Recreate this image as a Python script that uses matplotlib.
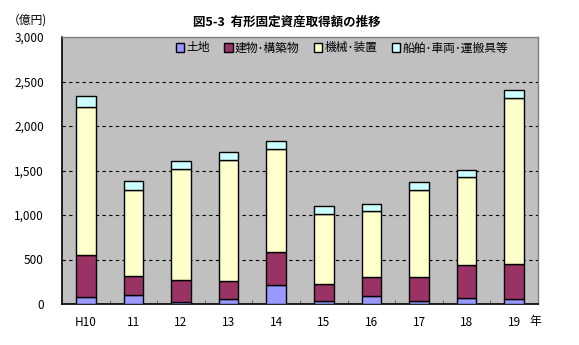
import numpy as np
import matplotlib.pyplot as plt
from matplotlib.ticker import FuncFormatter

plt.rcParams['font.family'] = ['Noto Sans CJK JP', 'DejaVu Sans']

# データ (億円)
years = ['H10', '11', '12', '13', '14', '15', '16', '17', '18', '19']
land = [75, 98, 19, 53, 210, 30, 87, 30, 64, 53]
building = [472, 213, 247, 202, 371, 191, 213, 270, 371, 393]
machinery = [1663, 967, 1247, 1359, 1157, 794, 742, 977, 988, 1865]
vehicles = [127, 100, 90, 90, 93, 83, 78, 90, 79, 90]

series = [
    ('土地', land, '#9999FF'),
    ('建物･構築物', building, '#993366'),
    ('機械･装置', machinery, '#FFFFCC'),
    ('船舶･車両･運搬具等', vehicles, '#CCFFFF'),
]

fig = plt.figure(figsize=(5.79, 3.45), dpi=100)
ax = fig.add_axes([62 / 579, 41 / 345, 476 / 579, 267 / 345])
ax.set_facecolor('#C0C0C0')

x = np.arange(len(years))
bottom = np.zeros(len(years))
handles = []
for name, vals, color in series:
    b = ax.bar(x, vals, width=0.41, bottom=bottom, color=color,
               edgecolor='black', linewidth=1.0, label=name, zorder=3)
    handles.append(b)
    bottom += np.array(vals)

ax.set_xlim(-0.5, len(years) - 0.5)
ax.set_ylim(0, 3000)
ax.set_yticks(np.arange(0, 3001, 500))
ax.yaxis.set_major_formatter(FuncFormatter(lambda v, p: f'{int(v):,}'))
ax.yaxis.grid(True, color='black', linestyle=(0, (3, 3)), linewidth=0.8)
ax.set_axisbelow(True)

ax.set_xticks(x)
ax.set_xticklabels(years)
ax.set_xticks(np.arange(0.5, len(years) - 1, 1), minor=True)
ax.tick_params(axis='x', which='major', length=0, pad=9, labelsize=8.5)
ax.tick_params(axis='x', which='minor', length=3, direction='in', color='#555555')
ax.tick_params(axis='y', length=0, pad=13, labelsize=8.5)

for s in ['left', 'bottom']:
    ax.spines[s].set_color('black')
    ax.spines[s].set_linewidth(1.2)
for s in ['top', 'right']:
    ax.spines[s].set_color('#808080')
    ax.spines[s].set_linewidth(1.0)

leg = fig.legend(handles=handles, loc='center', bbox_to_anchor=(342 / 579, 1 - 48 / 345),
                 ncol=4, frameon=False, fontsize=8.5, handlelength=0.7, handleheight=0.7,
                 handletextpad=0.2, columnspacing=1.2)

fig.text(287 / 579, 1 - 22 / 345, '図5-3  有形固定資産取得額の推移', ha='center', va='center',
         fontsize=9, fontweight='bold')
fig.text(8 / 579, 1 - 20 / 345, '（億円)', ha='left', va='center', fontsize=8.5)
fig.text(535 / 579, 1 - 321 / 345, '年', ha='center', va='center', fontsize=8.5)

fig.savefig('out.png', dpi=100)
